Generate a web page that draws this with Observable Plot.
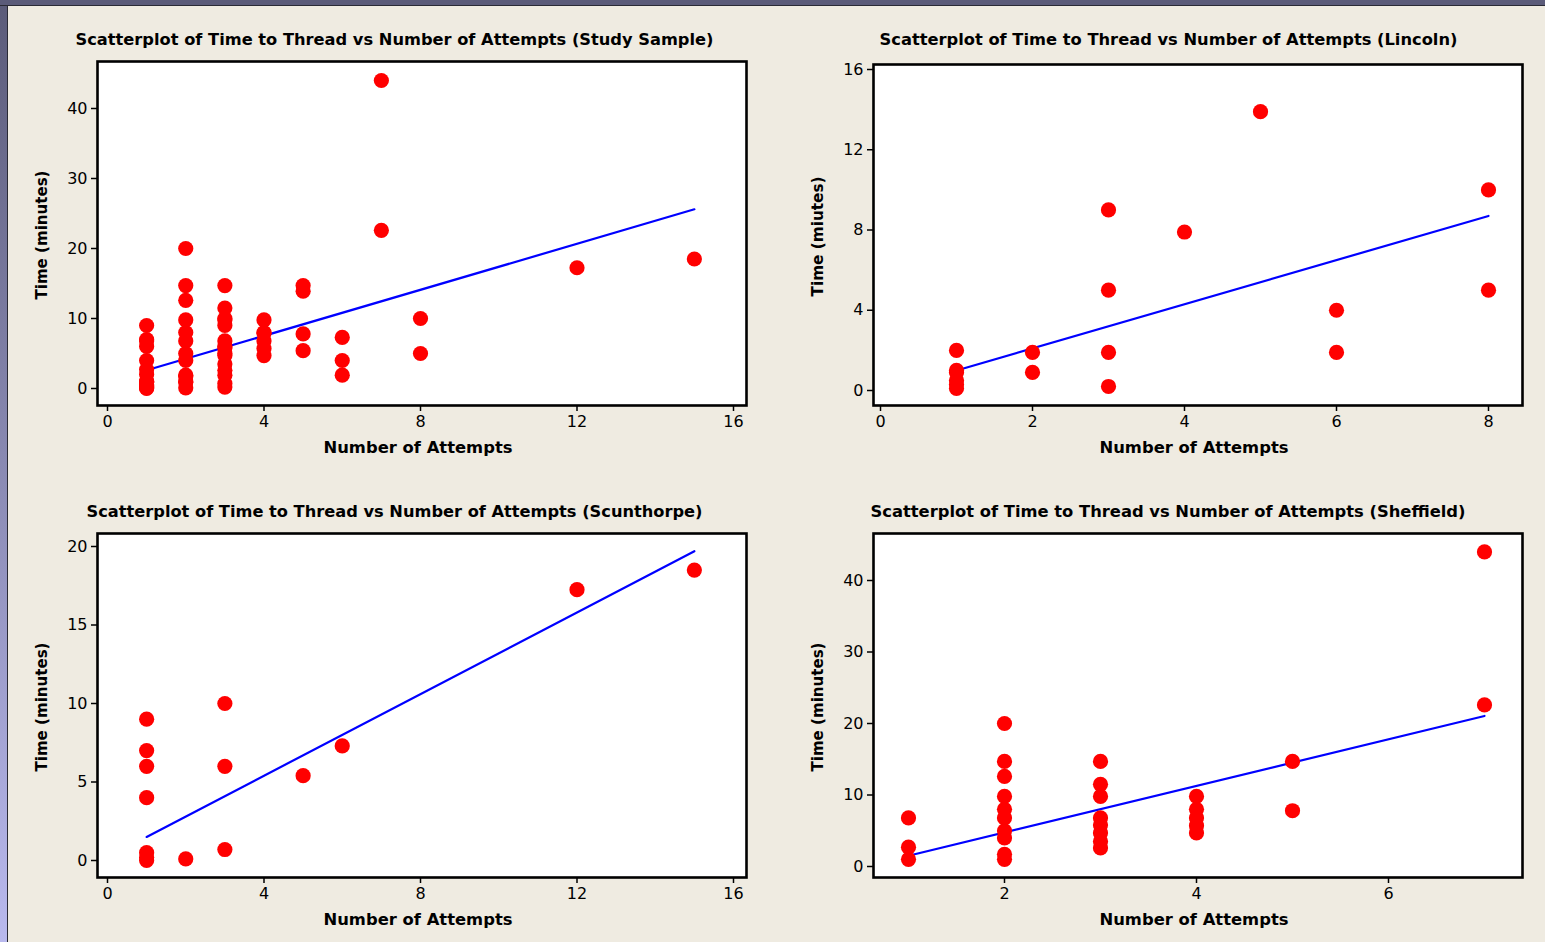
<!DOCTYPE html>
<html><head><meta charset="utf-8">
<script src="https://cdn.jsdelivr.net/npm/d3@7"></script>
<script src="https://cdn.jsdelivr.net/npm/@observablehq/plot@0.6"></script>
<style>
html,body{margin:0;padding:0;}
body{width:1545px;height:942px;background:#efebe1;position:relative;overflow:hidden;font-family:"DejaVu Sans",Verdana,sans-serif;}
#leftbar{position:absolute;left:0;top:0;width:7px;height:942px;background:linear-gradient(#5b5b79,#b9b9ee);border-right:1px solid #2a2a35;}
#topbar{position:absolute;left:0;top:0;width:1545px;height:5px;background:#5b5b79;border-bottom:1px solid #2a2a35;}
.panel{position:absolute;}
.panel svg{overflow:visible;}
</style></head><body>
<div id="leftbar"></div><div id="topbar"></div>
<div id="p1" class="panel" style="left:0;top:0"></div>
<div id="p2" class="panel" style="left:772px;top:0"></div>
<div id="p3" class="panel" style="left:0;top:470px"></div>
<div id="p4" class="panel" style="left:772px;top:470px"></div>
<script>
// Lincoln
const lincolnAttempts = [1,1,1,1,1,1,2,2,3,3,3,3,4,5,6,6,8,8];
const lincolnTime     = [2,1,0.9,0.5,0.3,0.1,1.9,0.9,9,5,1.9,0.2,7.9,13.9,4,1.9,10,5];
// Scunthorpe
const scunthorpeAttempts = [1,1,1,1,1,1,1,2,3,3,3,5,6,12,15];
const scunthorpeTime     = [9,7,6,4,0.5,0.2,0,0.1,10,6,0.7,5.4,7.3,17.25,18.5];
// Sheffield
const sheffieldAttempts = [1,1,1, 2,2,2,2,2,2,2,2,2,2, 3,3,3,3,3,3,3,3, 4,4,4,4,4, 5,5, 7,7];
const sheffieldTime     = [6.8,2.7,1, 20,14.7,12.6,9.8,8,6.8,5,4,1.7,1, 14.7,11.5,9.8,6.8,5.8,4.7,3.5,2.6, 9.8,8,6.8,5.7,4.7, 14.7,7.8, 44,22.6];
// Study sample = all three sites pooled
const studyAttempts = [...lincolnAttempts, ...scunthorpeAttempts, ...sheffieldAttempts];
const studyTime     = [...lincolnTime, ...scunthorpeTime, ...sheffieldTime];

// fitted lines: attempts at ends, fitted time
const studyFitX = [1, 15],      studyFitY = [2.6, 25.6];
const lincolnFitX = [1, 8],     lincolnFitY = [1.0, 8.7];
const scunthorpeFitX = [1, 15], scunthorpeFitY = [1.5, 19.7];
const sheffieldFitX = [1, 7],   sheffieldFitY = [1.5, 21.05];

const titles = [
  "Scatterplot of Time to Thread vs Number of Attempts (Study Sample)",
  "Scatterplot of Time to Thread vs Number of Attempts (Lincoln)",
  "Scatterplot of Time to Thread vs Number of Attempts (Scunthorpe)",
  "Scatterplot of Time to Thread vs Number of Attempts (Sheffield)"
];
const xLabel = "Number of Attempts";
const yLabels = ["Time (minutes)", "Time (miutes)", "Time (minutes)", "Time (minutes)"];

const xTicksA = [0,4,8,12,16], xTicksB = [0,2,4,6,8], xTicksC = [2,4,6];
const yTicks1 = [0,10,20,30,40], yTicks2 = [0,4,8,12,16], yTicks3 = [0,5,10,15,20], yTicks4 = [0,10,20,30,40];

function makePanel(c) {
  const pts = c.xs.map((x, i) => ({x, y: c.ys[i]}));
  const fit = c.fx.map((x, i) => ({x, y: c.fy[i]}));
  const svg = Plot.plot({
    width: c.width, height: c.height,
    marginLeft: c.ml, marginRight: c.mr, marginTop: c.mt, marginBottom: c.mb,
    x: {domain: c.xd, insetLeft: c.il, insetRight: c.ir},
    y: {domain: c.yd, insetTop: c.it, insetBottom: c.ib},
    style: {background: "transparent", color: "black", fontFamily: "DejaVu Sans, Verdana, sans-serif", fontSize: "16px", overflow: "visible"},
    marks: [
      Plot.frame({fill: "white", stroke: null}),
      Plot.axisX({ticks: c.xt, tickFormat: d => String(d), tickSize: 6, tickPadding: 4, label: null, strokeWidth: 1.5, fontSize: 16}),
      Plot.axisY({ticks: c.yt, tickFormat: d => String(d), tickSize: 6, tickPadding: 4, label: null, strokeWidth: 1.5, fontSize: 16}),
      Plot.line(fit, {x: "x", y: "y", stroke: "#0000ff", strokeWidth: 2.2}),
      Plot.dot(pts, {x: "x", y: "y", r: 7.6, fill: "#ff0000", stroke: null}),
      Plot.frame({stroke: "black", strokeWidth: 2.6}),
      Plot.text([c.title], {frameAnchor: "top", text: d => d, dx: c.tdx, dy: c.tdy, textAnchor: "middle", lineAnchor: "middle", fontWeight: "bold", fontSize: 15}),
      Plot.text([xLabel], {frameAnchor: "bottom", text: d => d, dx: c.xdx, dy: 43, textAnchor: "middle", lineAnchor: "middle", fontWeight: "bold", fontSize: 15}),
      Plot.text([c.ylab], {frameAnchor: "left", text: d => d, dx: -55, dy: c.ydy, rotate: -90, textAnchor: "middle", lineAnchor: "middle", fontWeight: "bold", fontSize: 15})
    ]
  });
  const widths = new Map([[c.title, c.tw], [xLabel, 189], [c.ylab, c.yw]]);
  svg.querySelectorAll("text").forEach(t => {
    const w = widths.get(t.textContent);
    if (w) { t.setAttribute("textLength", w); t.setAttribute("lengthAdjust", "spacingAndGlyphs"); }
  });
  return svg;
}

const cfgs = [
  {id: "p1", xs: studyAttempts, ys: studyTime, fx: studyFitX, fy: studyFitY, title: titles[0], ylab: yLabels[0],
   width: 772, height: 470, ml: 97, mr: 26, mt: 61, mb: 65, xd: [0,16], il: 10, ir: 13, yd: [0,40], it: 47, ib: 17,
   xt: xTicksA, yt: yTicks1, tdx: -27.5, tdy: -21, xdx: -4, ydy: 1.5, tw: 638, yw: 129},
  {id: "p2", xs: lincolnAttempts, ys: lincolnTime, fx: lincolnFitX, fy: lincolnFitY, title: titles[1], ylab: yLabels[1],
   width: 773, height: 470, ml: 101, mr: 23, mt: 64, mb: 65, xd: [0,8], il: 7, ir: 34, yd: [0,16], it: 5, ib: 15,
   xt: xTicksB, yt: yTicks2, tdx: -29.5, tdy: -24, xdx: -4, ydy: 1.5, tw: 578, yw: 120},
  {id: "p3", xs: scunthorpeAttempts, ys: scunthorpeTime, fx: scunthorpeFitX, fy: scunthorpeFitY, title: titles[2], ylab: yLabels[2],
   width: 772, height: 472, ml: 97, mr: 26, mt: 63, mb: 65, xd: [0,16], il: 10, ir: 13, yd: [0,20], it: 13, ib: 17,
   xt: xTicksA, yt: yTicks3, tdx: -27.5, tdy: -21, xdx: -4, ydy: 1.5, tw: 616, yw: 129},
  {id: "p4", xs: sheffieldAttempts, ys: sheffieldTime, fx: sheffieldFitX, fy: sheffieldFitY, title: titles[3], ylab: yLabels[3],
   width: 773, height: 472, ml: 101, mr: 23, mt: 63, mb: 65, xd: [2,6], il: 131, ir: 134, yd: [0,40], it: 47, ib: 11,
   xt: xTicksC, yt: yTicks4, tdx: -30, tdy: -21, xdx: -4, ydy: 1.5, tw: 595, yw: 129}
];
for (const c of cfgs) document.getElementById(c.id).appendChild(makePanel(c));
</script>
</body></html>
